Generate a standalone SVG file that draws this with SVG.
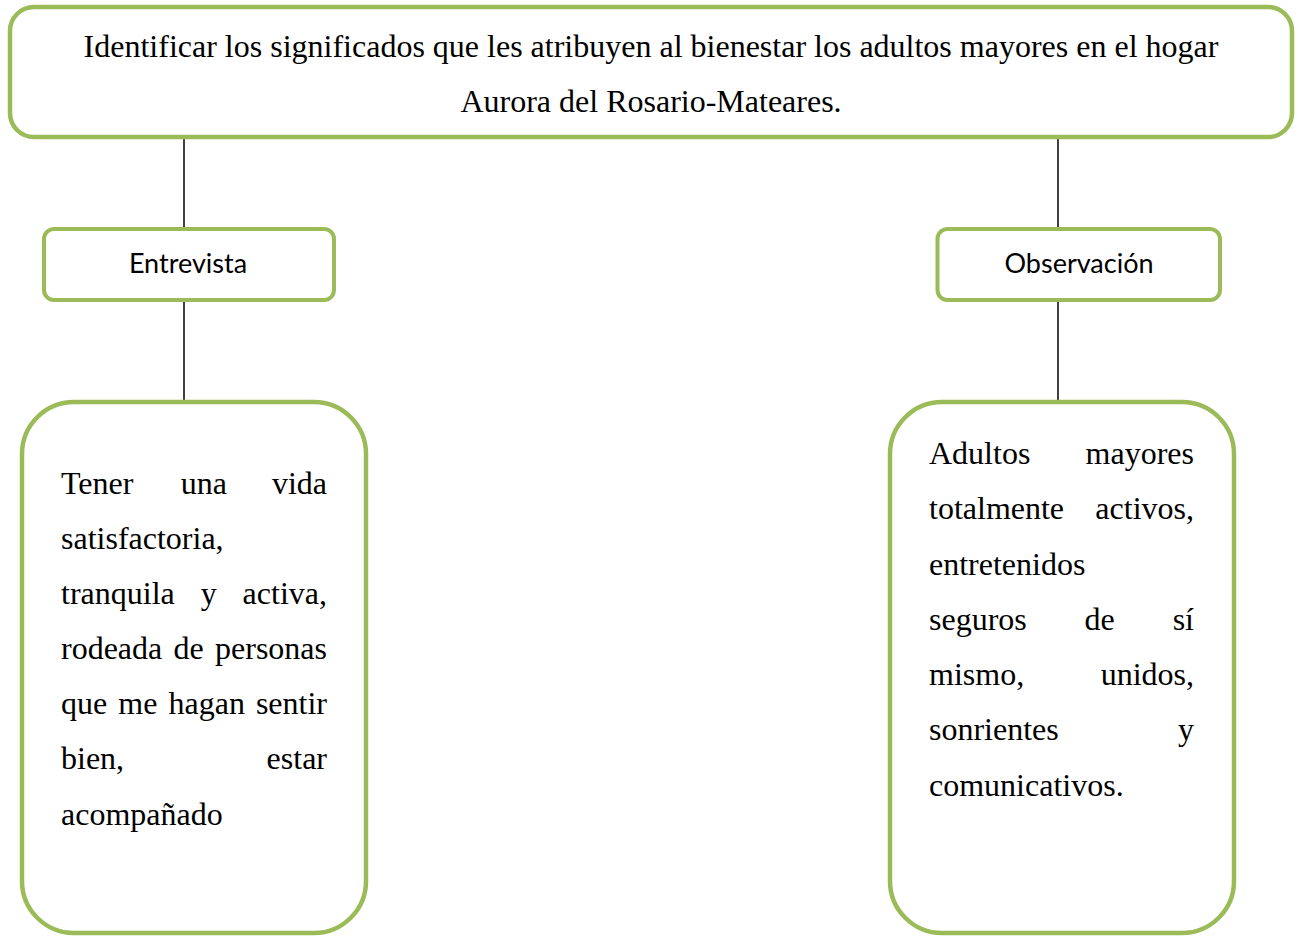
<svg xmlns="http://www.w3.org/2000/svg" width="1298" height="936" viewBox="0 0 1298 936">
<style>
.box{fill:#ffffff;stroke:#9BBB59;stroke-width:4.5}
.sbox{fill:#ffffff;stroke:#9BBB59;stroke-width:4}
.conn{stroke:#000000;stroke-width:1.5;fill:none}
.serif{font-family:"Liberation Serif","Times New Roman",serif;font-size:32px;fill:#000000}
.sans{font-family:Lato,"Liberation Sans",sans-serif;font-size:27px;fill:#000000;text-anchor:middle}
.mid{text-anchor:middle}
.end{text-anchor:end}
</style>
<rect width="1298" height="936" fill="#ffffff"/>
<g id="connectors">
<line class="conn" x1="184" y1="138" x2="184" y2="229"/>
<line class="conn" x1="184" y1="300" x2="184" y2="402"/>
<line class="conn" x1="1058" y1="138" x2="1058" y2="229"/>
<line class="conn" x1="1058" y1="300" x2="1058" y2="402"/>
</g>
<g id="objetivo">
<rect class="box" x="10" y="7" width="1282" height="130" rx="24" ry="24"/>
<text class="serif mid" x="651" y="57">Identificar los significados que les atribuyen al bienestar los adultos mayores en el hogar</text>
<text class="serif mid" x="651" y="112">Aurora del Rosario-Mateares.</text>
</g>
<g id="entrevista">
<rect class="sbox" x="44" y="229" width="290" height="71" rx="10" ry="10"/>
<text class="sans" x="188" y="273">Entrevista</text>
</g>
<g id="observacion">
<rect class="sbox" x="937.5" y="229" width="282.5" height="71" rx="10" ry="10"/>
<text class="sans" x="1079" y="273">Observación</text>
</g>
<g id="significado-entrevista">
<rect class="box" x="22" y="402" width="344" height="531" rx="52" ry="52"/>
<text class="serif" x="61" y="494">Tener</text>
<text class="serif" x="180.7" y="494">una</text>
<text class="serif end" x="327" y="494">vida</text>
<text class="serif" x="61" y="549">satisfactoria,</text>
<text class="serif" x="61" y="604">tranquila</text>
<text class="serif" x="200.7" y="604">y</text>
<text class="serif end" x="327" y="604">activa,</text>
<text class="serif" x="61" y="659">rodeada</text>
<text class="serif" x="173.5" y="659">de</text>
<text class="serif end" x="327" y="659">personas</text>
<text class="serif" x="61" y="714">que</text>
<text class="serif" x="118.3" y="714">me</text>
<text class="serif" x="168.5" y="714">hagan</text>
<text class="serif end" x="327" y="714">sentir</text>
<text class="serif" x="61" y="769">bien,</text>
<text class="serif end" x="327" y="769">estar</text>
<text class="serif" x="61" y="825">acompañado</text>
</g>
<g id="significado-observacion">
<rect class="box" x="890" y="402" width="344" height="531" rx="52" ry="52"/>
<text class="serif" x="929" y="464">Adultos</text>
<text class="serif end" x="1194" y="464">mayores</text>
<text class="serif" x="929" y="519">totalmente</text>
<text class="serif end" x="1194" y="519">activos,</text>
<text class="serif" x="929" y="575">entretenidos</text>
<text class="serif" x="929" y="630">seguros</text>
<text class="serif" x="1084.6" y="630">de</text>
<text class="serif end" x="1194" y="630">sí</text>
<text class="serif" x="929" y="685">mismo,</text>
<text class="serif end" x="1194" y="685">unidos,</text>
<text class="serif" x="929" y="740">sonrientes</text>
<text class="serif end" x="1194" y="740">y</text>
<text class="serif" x="929" y="796">comunicativos.</text>
</g>
</svg>
